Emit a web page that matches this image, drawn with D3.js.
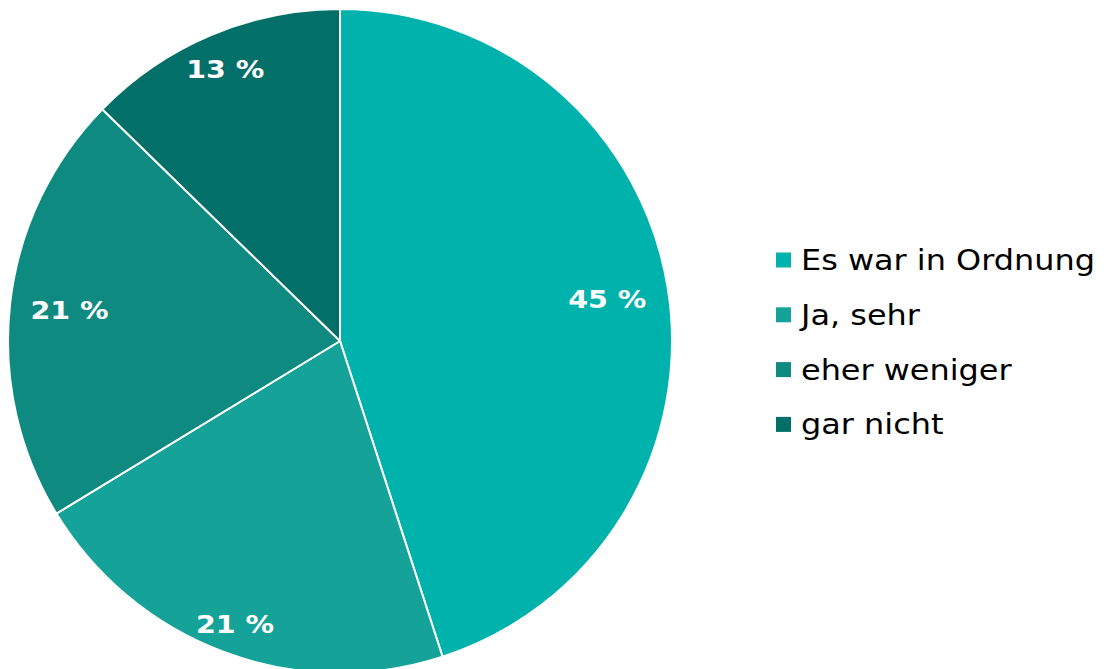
<!DOCTYPE html>
<html>
<head>
<meta charset="utf-8">
<script src="https://cdn.jsdelivr.net/npm/d3@7"></script>
<style>
  html, body { margin: 0; padding: 0; background: #fff; }
  svg { display: block; font-family: "DejaVu Sans", Verdana, sans-serif; }
</style>
</head>
<body>
<svg id="chart" width="1106" height="669"></svg>
<script>
// data, clockwise from 12 o'clock
var categories = ["Es war in Ordnung", "Ja, sehr", "eher weniger", "gar nicht"];
var values = [45.0, 21.3, 21.0, 12.7];

var colors = ["#00b2ac", "#15a298", "#0e8a80", "#026f68"];
// label distance from centre as share of the radius (best-fit placement in the original)
var labelPos = [0.815, 0.91, 0.82, 0.89];
var wide = 1.14; // DejaVu is narrower than the original Verdana

var svg = d3.select("#chart"),
    cx = 340, cy = 341, radius = 332;

var pct = function(v){ return Math.round(v) + " %"; };

var pie = d3.pie().sort(null).value(function(d){ return d; });
var arc = d3.arc().innerRadius(0).outerRadius(radius);

var arcs = pie(values);

var g = svg.append("g").attr("transform", "translate(" + cx + "," + cy + ")");

g.selectAll("path.slice")
  .data(arcs).enter()
  .append("path")
    .attr("class", "slice")
    .attr("d", arc)
    .attr("fill", function(d, i){ return colors[i]; })
    .attr("stroke", "#fff")
    .attr("stroke-width", 2)
    .attr("stroke-linejoin", "round");

g.selectAll("text.lbl")
  .data(arcs).enter()
  .append("text")
    .attr("class", "lbl")
    .attr("transform", function(d, i){
      var a = (d.startAngle + d.endAngle) / 2, r = radius * labelPos[i];
      return "translate(" + (Math.sin(a) * r) + "," + (-Math.cos(a) * r) + ") scale(" + wide + ",1)";
    })
    .attr("text-anchor", "middle")
    .attr("dy", "0.36em")
    .attr("fill", "#fff")
    .attr("font-weight", "bold")
    .attr("font-size", 25)
    .text(function(d){ return pct(d.value); });

// legend
var legend = svg.append("g").attr("transform", "translate(776,260)");
var row = legend.selectAll("g.item")
  .data(categories).enter()
  .append("g")
    .attr("class", "item")
    .attr("transform", function(d, i){ return "translate(0," + (i * 54.8) + ")"; });

row.append("rect")
  .attr("x", 0).attr("y", -7.5)
  .attr("width", 15).attr("height", 15)
  .attr("fill", function(d, i){ return colors[i]; });

row.append("text")
  .attr("transform", "translate(25,0) scale(" + wide + ",1)")
  .attr("dy", "0.36em")
  .attr("font-size", 28)
  .attr("fill", "#000")
  .text(function(d){ return d; });
</script>
</body>
</html>
